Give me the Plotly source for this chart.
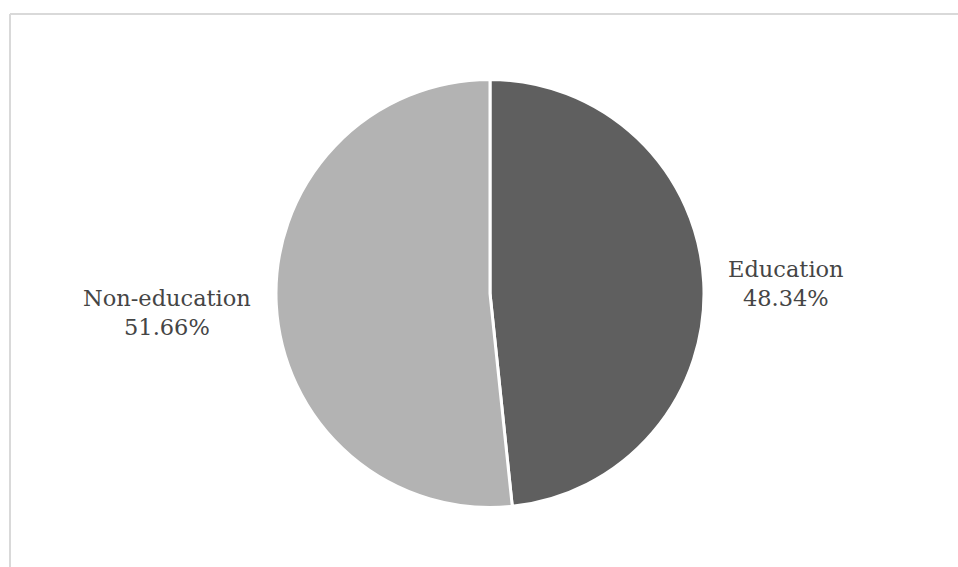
import plotly.graph_objects as go

labels = ["Education", "Non-education"]
values = [48.34, 51.66]
colors = ["#5f5f5f", "#b3b3b3"]

W, H = 958, 567
cx, cy, r = 490, 293.5, 214

fig = go.Figure(go.Pie(
    labels=labels,
    values=values,
    sort=False,
    direction="clockwise",
    rotation=0,
    marker=dict(colors=colors, line=dict(color="white", width=3)),
    textinfo="none",
    hoverinfo="label+percent",
    showlegend=False,
    domain=dict(x=[(cx - r) / W, (cx + r) / W], y=[(H - (cy + r)) / H, (H - (cy - r)) / H]),
))

label_pos = {"Education": (786, 283), "Non-education": (167, 312)}
annotations = []
for lab, val in zip(labels, values):
    x, y = label_pos[lab]
    annotations.append(dict(
        x=x / W, y=1 - y / H, xref="paper", yref="paper",
        text=f"{lab}<br>{val:.2f}%", showarrow=False,
        font=dict(family="DejaVu Serif", size=22.5, color="#454545"),
        align="center", xanchor="center", yanchor="middle",
    ))

shapes = [
    dict(type="line", xref="paper", yref="paper", x0=10 / W, x1=1.0, y0=1 - 14 / H, y1=1 - 14 / H,
         line=dict(color="#d9d9d9", width=2)),
    dict(type="line", xref="paper", yref="paper", x0=10 / W, x1=10 / W, y0=0, y1=1 - 14 / H,
         line=dict(color="#d9d9d9", width=2)),
]

fig.update_layout(
    width=W, height=H,
    margin=dict(l=0, r=0, t=0, b=0),
    paper_bgcolor="white", plot_bgcolor="white",
    annotations=annotations, shapes=shapes,
)

fig.write_html("out.html")
